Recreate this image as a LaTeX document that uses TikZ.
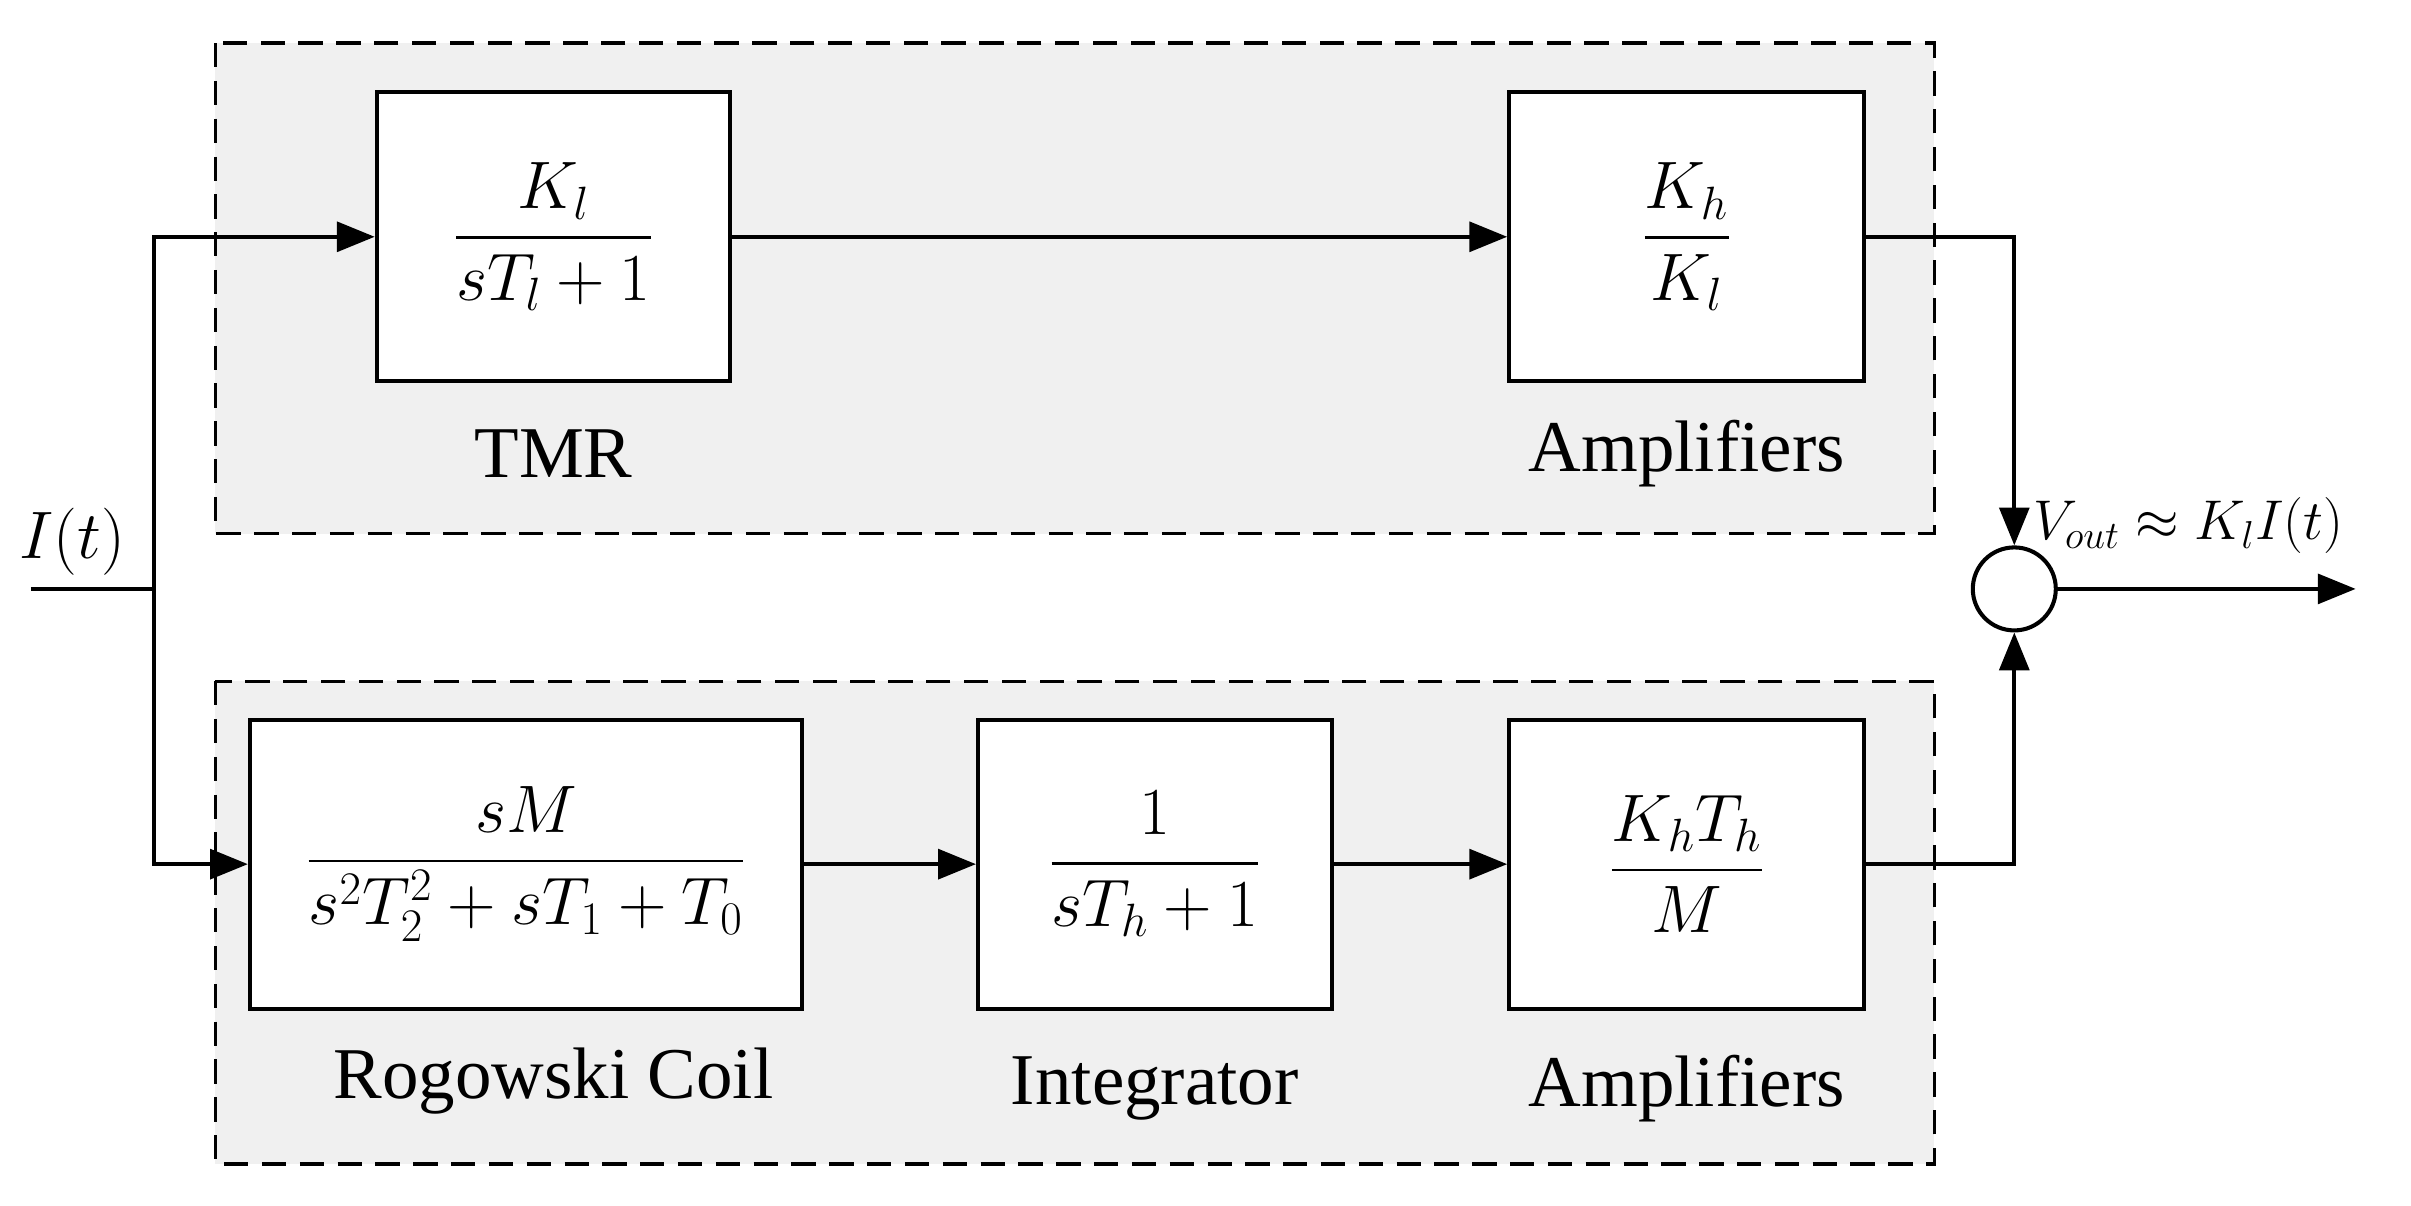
\documentclass[tikz,border=0pt]{standalone}
\usepackage{amsmath}
\usepackage{fontspec}
\setmainfont{Liberation Serif}
\usetikzlibrary{arrows.meta}
\begin{document}
\begin{tikzpicture}[x=0.02cm,y=-0.02cm,
  grp/.style={draw,dashed,line width=1.2pt,fill=gray!12,dash pattern=on 9pt off 5pt},
  blk/.style={draw,line width=1.5pt,fill=white,minimum height=3.76cm,font=\fontsize{25}{30}\selectfont},
  lbl/.style={font=\fontsize{27}{32}\selectfont},
  con/.style={line width=1.5pt},
  arr/.style={con,-{Triangle[length=14pt,width=11pt]}}]
\useasboundingbox (0,0) rectangle (1568,784);
\draw[grp] (140,28) rectangle (1258,347);
\draw[grp] (140,443) rectangle (1258,757);
\node[blk,minimum width=4.6cm] (tmr) at (360,154) {$\dfrac{K_l}{sT_l+1}$};
\node[blk,minimum width=4.62cm] (amp1) at (1097,154) {$\dfrac{K_h}{K_l}$};
\node[blk,minimum width=7.18cm] (rog) at (342,562) {$\dfrac{sM}{s^2T_2^2+sT_1+T_0}$};
\node[blk,minimum width=4.6cm] (int) at (751,562) {$\dfrac{1}{sT_h+1}$};
\node[blk,minimum width=4.62cm] (amp2) at (1097,562) {$\dfrac{K_hT_h}{M}$};
\node[lbl] (l1) at (360,295) {TMR};
\node[lbl] (l2) at (1097,295) {Amplifiers};
\node[lbl] (l3) at (360,703) {Rogowski Coil};
\node[lbl] (l4) at (751,708) {Integrator};
\node[lbl] (l5) at (1097,708) {Amplifiers};
\node[draw,circle,line width=1.5pt,minimum size=1.08cm,inner sep=0] (sum) at (1310,383) {};
\coordinate (in) at (20,383);
\coordinate (j) at (100,383);
\coordinate (out) at (1532,383);
\node[lbl] (it) at (47,352) {$I(t)$};
\node[anchor=west,font=\fontsize{22}{26}\selectfont] (vo) at (1316,342) {$V_{out}\approx K_lI(t)$};
\draw[con] (in) -- (j);
\draw[arr] (j) |- (tmr.west);
\draw[arr] (j) |- (rog.west);
\draw[arr] (tmr) -- (amp1);
\draw[arr] (rog) -- (int);
\draw[arr] (int) -- (amp2);
\draw[arr] (amp1.east) -| (sum.north);
\draw[arr] (amp2.east) -| (sum.south);
\draw[arr] (sum.east) -- (out);
\end{tikzpicture}
\end{document}
